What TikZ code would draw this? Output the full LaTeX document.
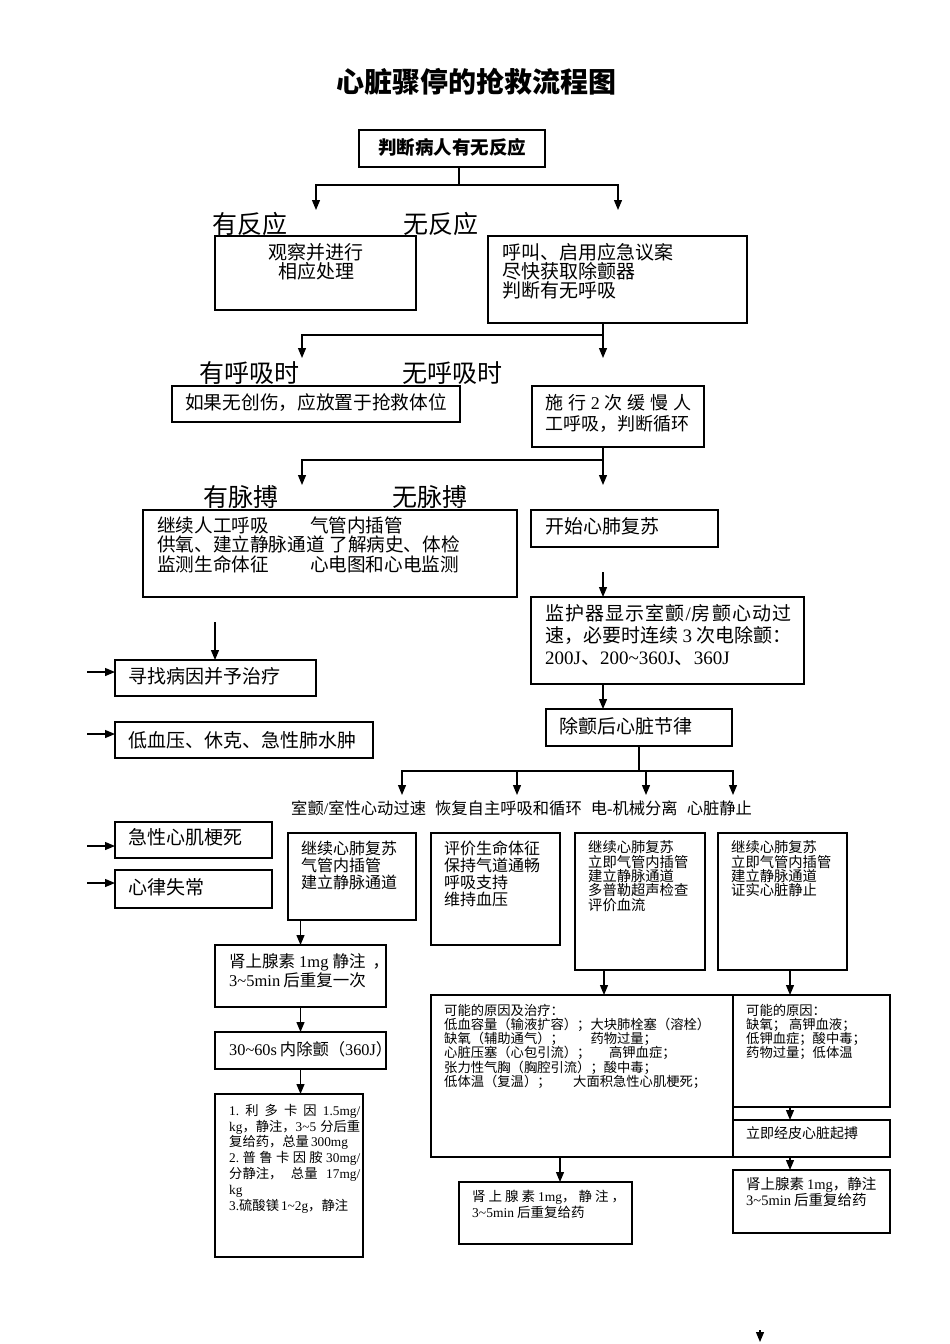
\documentclass[tikz,border=0pt]{standalone}
\usepackage{fontspec}
\setmainfont{Noto Sans CJK SC}
\newfontfamily\lat{Liberation Serif}
\usetikzlibrary{arrows.meta,calc}
\tikzset{
 box/.style={draw, line width=1.2pt, outer sep=0pt, inner sep=0pt},
 txt/.style={anchor=north west, inner sep=0pt, align=left},
 ctxt/.style={anchor=north, inner sep=0pt, align=center},
 arr/.style={line width=1.2pt, -{Triangle[length=10pt,width=8pt]}},
 ln/.style={line width=1.2pt},
 lbl/.style={inner sep=0pt, font=\fontsize{25}{25}\selectfont},
}
\newcommand\mkbox[5]{\node[box, minimum width={(#4)-(#2)}, minimum height={(#5)-(#3)}] (#1) at ({((#2)+(#4))/2},{((#3)+(#5))/2}) {};}
\newcommand\mytext[5]{\node[txt, font=\fontsize{#3}{#4}\selectfont] at (#1,{(#2)-0.46*(#3)}) {#5};}
\begin{document}
\begin{tikzpicture}[x=1pt,y=-1pt]
\path[use as bounding box] (0,0) rectangle (950,1344);
% title
\node[inner sep=0pt, font=\fontsize{28}{28}\selectfont\bfseries] (title) at (476,82) {心脏骤停的抢救流程图};
% row 1
\mkbox{b1}{359}{130}{545}{167}
\node[inner sep=0pt, font=\fontsize{18.5}{19}\selectfont\bfseries] (t1) at (452,147) {判断病人有无反应};
\coordinate (j1) at (459,185);
\coordinate (a1) at (316,210);
\coordinate (a2) at (618,210);
\draw[ln] (b1.south -| j1) -- (j1);
\draw[arr] (j1) -| (a1);
\draw[arr] (j1) -| (a2);
\node[lbl] (l1) at (250,224) {有反应};
\node[lbl] (l2) at (441,224) {无反应};
\mkbox{b2}{215}{236}{416}{310}
\node[ctxt, font=\fontsize{19}{19}\selectfont] (t2) at (316,{252-0.46*19}) {观察并进行\\相应处理};
\mkbox{b3}{488}{236}{747}{323}
\mytext{502}{252}{19}{19}{呼叫、启用应急议案\\尽快获取除颤器\\判断有无呼吸}
% row 2
\coordinate (j2) at (603,335);
\coordinate (a3) at (302,358);
\coordinate (a4) at (603,358);
\draw[ln] (b3.south -| j2) -- (j2);
\draw[arr] (j2) -| (a3);
\draw[arr] (j2) -- (a4);
\node[lbl] (l3) at (249,373) {有呼吸时};
\node[lbl] (l4) at (452,373) {无呼吸时};
\mkbox{b4}{172}{386}{460}{422}
\mytext{185}{402}{18.7}{19}{如果无创伤，应放置于抢救体位}
\mkbox{b5}{532}{386}{704}{447}
\mytext{545}{402}{18}{21}{\makebox[146pt][s]{施\hfil 行\hfil {\lat 2}\hfil 次\hfil 缓\hfil 慢\hfil 人}\\工呼吸，判断循环}
% row 3
\coordinate (j3) at (603,460);
\coordinate (a5) at (302,485);
\coordinate (a6) at (603,485);
\draw[ln] (b5.south -| j3) -- (j3);
\draw[arr] (j3) -| (a5);
\draw[arr] (j3) -- (a6);
\node[lbl] (l5) at (241,497) {有脉搏};
\node[lbl] (l6) at (430,497) {无脉搏};
\mkbox{b6}{143}{510}{517}{597}
\mytext{157}{525}{18.6}{19.5}{\makebox[153pt][l]{继续人工呼吸}气管内插管\\供氧、建立静脉通道\hspace{5pt}了解病史、体检\\\makebox[153pt][l]{监测生命体征}心电图和心电监测}
\mkbox{b7}{531}{510}{718}{547}
\mytext{545}{526}{19}{19}{开始心肺复苏}
% monitor box
\coordinate (s8) at (603,572);
\mkbox{b8}{531}{597}{804}{684}
\draw[arr] (s8) -- (s8 |- b8.north);
\mytext{545}{613}{19}{22}{\makebox[246pt][s]{监\hfil 护\hfil 器\hfil 显\hfil 示\hfil 室\hfil 颤\hfil {\lat /}\hfil 房\hfil 颤\hfil 心\hfil 动\hfil 过}\\\makebox[246pt][s]{速，\hfil 必\hfil 要\hfil 时\hfil 连\hfil 续\hspace{4pt}{\lat 3}\hspace{4pt}次\hfil 电\hfil 除\hfil 颤：}\\{\lat 200J}、{\lat 200\textasciitilde360J}、{\lat 360J}}
\mkbox{b13}{546}{709}{732}{746}
\draw[arr] (b8.south -| s8) -- (b13.north -| s8);
\mytext{559}{726}{19}{19}{除颤后心脏节律}
% left column
\coordinate (s9) at (215,622);
\mkbox{b9}{115}{660}{316}{696}
\draw[arr] (s9) -- (s9 |- b9.north);
\mytext{128}{676}{19}{19}{寻找病因并予治疗}
\mkbox{b10}{115}{722}{373}{758}
\mytext{128}{740}{19}{19}{低血压、休克、急性肺水肿}
\mkbox{b11}{115}{822}{272}{858}
\mytext{128}{837}{19}{19}{急性心肌梗死}
\mkbox{b12}{115}{870}{272}{908}
\mytext{128}{887}{19}{19}{心律失常}
\coordinate (l9) at (87,672);
\coordinate (l10) at (87,734);
\coordinate (l11) at (87,846);
\coordinate (l12) at (87,883);
\draw[arr] (l9) -- (l9 -| b9.west);
\draw[arr] (l10) -- (l10 -| b10.west);
\draw[arr] (l11) -- (l11 -| b11.west);
\draw[arr] (l12) -- (l12 -| b12.west);
% row 4 branch
\coordinate (j4) at (639,771);
\coordinate (a7) at (402,795);
\coordinate (a8) at (517,795);
\coordinate (a9) at (646,795);
\coordinate (a10) at (733,795);
\draw[ln] (b13.south) -- (j4);
\draw[arr] (j4) -| (a7);
\draw[arr] (j4) -| (a8);
\draw[arr] (j4) -| (a9);
\draw[arr] (j4) -| (a10);
\node[anchor=west, inner sep=0pt, font=\fontsize{16.3}{16}\selectfont] (rl) at (291,808) {室颤{\lat /}室性心动过速\hspace{9pt}恢复自主呼吸和循环\hspace{9pt}电{\lat -}机械分离\hspace{9pt}心脏静止};
% four boxes
\mkbox{b14}{288}{833}{416}{920}
\mytext{301}{848}{16}{17}{继续心肺复苏\\气管内插管\\建立静脉通道}
\mkbox{b15}{431}{833}{560}{945}
\mytext{444}{848}{16}{17}{评价生命体征\\保持气道通畅\\呼吸支持\\维持血压}
\mkbox{b16}{575}{833}{705}{970}
\mytext{588}{847}{14.3}{14.4}{继续心肺复苏\\立即气管内插管\\建立静脉通道\\多普勒超声检查\\评价血流}
\mkbox{b17}{718}{833}{847}{970}
\mytext{731}{847}{14.3}{14.4}{继续心肺复苏\\立即气管内插管\\建立静脉通道\\证实心脏静止}
% VF chain
\mkbox{b18}{215}{945}{386}{1007}
\draw[arr] (b14.south -| b18.north) -- (b18.north);
\mytext{229}{961}{16.5}{19}{肾上腺素\hspace{4pt}{\lat 1mg}\hspace{4pt}静注\hspace{7pt}，\\{\lat 3\textasciitilde5min}\hspace{3pt}后重复一次}
\mkbox{b19}{215}{1032}{386}{1069}
\draw[arr] (b18.south) -- (b19.north);
\mytext{229}{1049}{16.3}{18}{{\lat 30\textasciitilde60s}\hspace{3pt}内除颤（{\lat 360J}）}
\mkbox{b20}{215}{1094}{363}{1257}
\draw[arr] (b19.south) -- (b19.south |- b20.north);
\mytext{229}{1110}{13.3}{15.8}{\makebox[131pt][s]{{\lat 1.}\hfil 利\hfil 多\hfil 卡\hfil 因\hfil {\lat 1.5mg/}}\\\makebox[131pt][s]{{\lat kg}，静注，{\lat 3\textasciitilde5}\hfil 分后重}\\复给药，总量\hspace{2pt}{\lat 300mg}\\\makebox[131pt][s]{{\lat 2.}\hfil 普\hfil 鲁\hfil 卡\hfil 因\hfil 胺\hfil {\lat 30mg/}}\\\makebox[131pt][s]{分静注，\hfil 总量\hfil {\lat 17mg/}}\\{\lat kg}\\{\lat 3.}硫酸镁\hspace{2pt}{\lat 1\textasciitilde2g}，静注}
% causes
\mkbox{b21}{431}{995}{733}{1157}
\coordinate (s21) at (604,970);
\draw[arr] (s21) -- (s21 |- b21.north);
\mytext{444}{1010}{13.3}{14.2}{可能的原因及治疗：\\低血容量（输液扩容）；大块肺栓塞（溶栓）\\缺氧（辅助通气）；\hspace{2em}药物过量；\\心脏压塞（心包引流）；\hspace{1.4em}高钾血症；\\张力性气胸（胸腔引流）；酸中毒；\\低体温（复温）；\hspace{1.7em}大面积急性心肌梗死；}
\mkbox{b22}{733}{995}{890}{1107}
\coordinate (s22) at (790,970);
\draw[arr] (s22) -- (s22 |- b22.north);
\mytext{746}{1010}{13.3}{14.2}{可能的原因：\\缺氧； 高钾血液；\\低钾血症；酸中毒；\\药物过量；低体温}
\mkbox{b23}{733}{1120}{890}{1157}
\draw[arr] (b22.south -| s22) -- (b23.north -| s22);
\mytext{746}{1133}{14}{14}{立即经皮心脏起搏}
\mkbox{b24}{733}{1170}{890}{1233}
\draw[arr] (b23.south -| s22) -- (b24.north -| s22);
\mytext{746}{1184}{14.5}{16}{肾上腺素\hspace{3pt}{\lat 1mg}，静注\\{\lat 3\textasciitilde5min}\hspace{3pt}后重复给药}
\mkbox{b25}{459}{1182}{632}{1244}
\coordinate (s25) at (560,1157);
\draw[arr] (s25) -- (s25 |- b25.north);
\mytext{472}{1196}{13.5}{16}{\makebox[153pt][s]{肾\hfil 上\hfil 腺\hfil 素\hfil {\lat 1mg}，\hfil 静\hfil 注\hfil ，}\\{\lat 3\textasciitilde5min}\hspace{3pt}后重复给药}
% lone arrowhead
\coordinate (z1) at (760,1330);
\coordinate (z2) at (760,1342);
\draw[arr] (z1) -- (z2);
\end{tikzpicture}
\end{document}
